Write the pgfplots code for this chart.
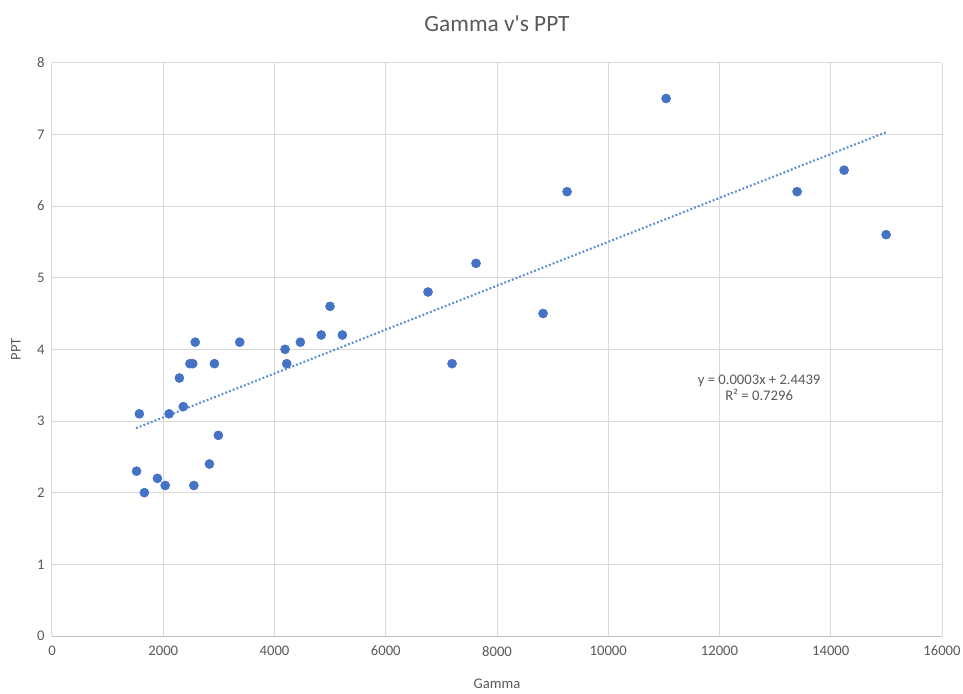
\documentclass[border=0pt]{standalone}
\usepackage{pgfplots}
\pgfplotsset{compat=1.18}
\usepackage{fontspec}
\setmainfont{Carlito}
\definecolor{txt}{HTML}{595959}
\definecolor{gridc}{HTML}{D9D9D9}
\definecolor{axc}{HTML}{BFBFBF}
\definecolor{pts}{HTML}{4472C4}
\definecolor{trend}{HTML}{5B8FD0}
\begin{document}
\begin{tikzpicture}
\useasboundingbox (-39pt,-42.75pt) rectangle (683.25pt,477pt);
\begin{axis}[
  at={(0,0)}, anchor=south west,
  width=667.5pt, height=430pt, scale only axis,
  xmin=0, xmax=16000, ymin=0, ymax=8,
  xtick={0,2000,...,16000}, ytick={0,1,...,8},
  grid=major, grid style={gridc, line width=0.75pt},
  axis line style={draw=none},
  tick style={draw=none},
  /pgf/number format/assume math mode=true,
  scaled x ticks=false,
  xticklabel style={/pgf/number format/1000 sep={}},
  tick label style={font=\fontsize{11}{13}\selectfont, text=txt},
  xticklabel shift=4pt, yticklabel shift=2pt,
  title={Gamma v\textquotesingle s PPT},
  title style={font=\fontsize{17.5}{20}\selectfont, text=txt, at={(0.5,1)}, anchor=south, yshift=14pt},
  xlabel={Gamma}, ylabel={PPT},
  label style={font=\fontsize{11}{13}\selectfont, text=txt},
  xlabel style={at={(0.5,0)}, anchor=south, yshift=-43pt},
  ylabel style={at={(0,0.5)}, anchor=south, rotate=0, xshift=0pt, yshift=20pt},
  clip=false,
]
\draw[axc, line width=0.75pt] (axis cs:0,0) -- (axis cs:16000,0);
\addplot[trend, line width=1.6pt, dash pattern=on 1.4pt off 1.6pt] coordinates {(1510,2.90) (14995,7.03)};
\addplot[only marks, mark=*, mark size=3.4pt, mark options={fill=pts, draw=pts}] coordinates {
(1570,3.1) (1520,2.3) (1660,2.0) (1895,2.2) (2035,2.1) (2105,3.1) (2360,3.2) (2290,3.6)
(2480,3.8) (2530,3.8) (2575,4.1) (2550,2.1) (2830,2.4) (2990,2.8) (2920,3.8) (3375,4.1)
(4190,4.0) (4220,3.8) (4465,4.1) (4840,4.2) (5220,4.2) (4998,4.6) (6760,4.8) (7192,3.8)
(7623,5.2) (8828,4.5) (9260,6.2) (11040,7.5) (13395,6.2) (14240,6.5) (14995,5.6)
};
\node[text=txt, font=\fontsize{11}{13}\selectfont, align=center, inner sep=0pt] at (axis cs:12712,3.47) {y = 0.0003x + 2.4439\\[-1pt]R² = 0.7296};
\end{axis}
\end{tikzpicture}
\end{document}
